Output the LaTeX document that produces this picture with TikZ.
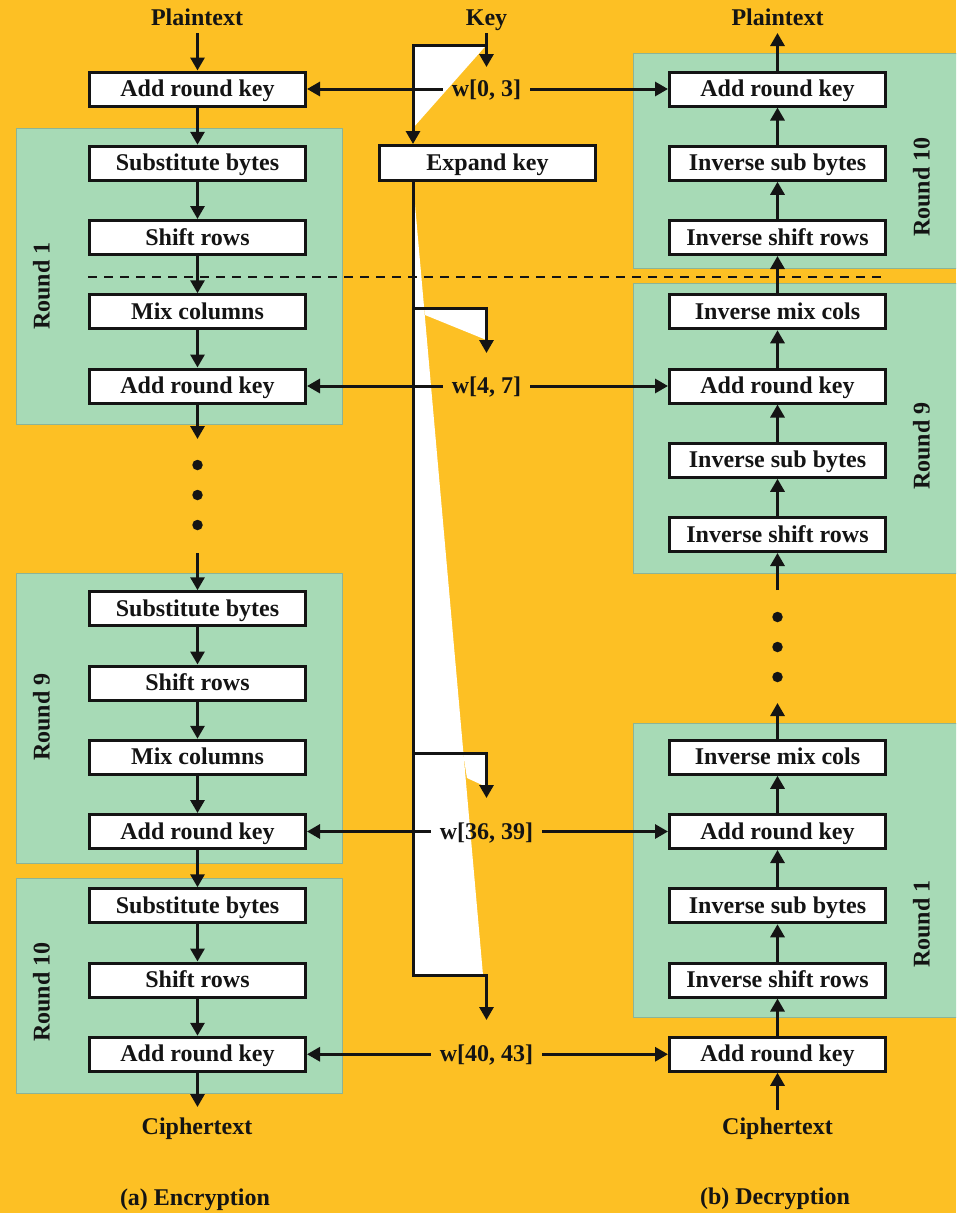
\documentclass[tikz,border=0pt]{standalone}
\usepackage{fontspec}
\setmainfont{Liberation Serif}
\usetikzlibrary{arrows.meta}

\definecolor{bgyellow}{RGB}{253,192,36}
\definecolor{roundgreen}{RGB}{167,218,182}
\definecolor{roundedge}{RGB}{140,180,150}
\definecolor{ink}{RGB}{20,20,20}

\newcommand{\lblfont}{\bfseries\fontsize{24}{28}\selectfont}

\begin{document}
\begin{tikzpicture}[x=1pt,y=-1pt,
  every node/.style={font=\lblfont, text=ink, text height=16pt, text depth=1pt},
  stepbox/.style={draw=ink, line width=3pt, fill=white, minimum width=216pt,
                  minimum height=34pt, inner sep=0pt},
  panel/.style={fill=roundgreen, draw=roundedge, line width=0.8pt},
  wire/.style={draw=ink, line width=3pt, line join=miter},
  flow/.style={wire, -{Triangle[length=13pt,width=14pt]}},
  wlabel/.style={inner xsep=9pt, inner ysep=4pt},
  roundlbl/.style={rotate=90, inner sep=0pt},
  dotmark/.style={circle, fill=ink, inner sep=0pt, minimum size=10.5pt,
                  text height=0pt, text depth=0pt},
  wedge/.style={fill=white}
]
\useasboundingbox (0,0) rectangle (956,1213);
\fill[bgyellow] (0,0) rectangle (956,1213);
\clip (0,0) rectangle (956,1213);

% ---- round panels ----
\draw[panel] (16,128) rectangle (342,424);
\draw[panel] (16,573) rectangle (342,863);
\draw[panel] (16,878) rectangle (342,1093);
\draw[panel] (633,53)  rectangle (960,268);
\draw[panel] (633,283) rectangle (960,573);
\draw[panel] (633,723) rectangle (960,1017);

% ---- key expansion wedges ----
\fill[wedge] (413,45) -- (486.5,45) -- (413,128) -- cycle;
\fill[wedge] (413,182) -- (483,975) -- (413,975) -- cycle;
\fill[wedge] (424,308) -- (486.5,308) -- (486.5,340) -- (425,315) -- cycle;
\fill[wedge] (463,753) -- (486.5,753) -- (486.5,787) -- (467,778) -- cycle;

% ---- boundary between rounds ----
\draw[ink, line width=2pt, dash pattern=on 9pt off 7pt] (88,277) -- (885,277);

% ---- top and bottom labels ----
\node (ptE) at (197,18) {Plaintext};
\node (ptD) at (777.5,18) {Plaintext};
\node (key) at (486.5,18) {Key};
\node (ctE) at (197,1127) {Ciphertext};
\node (ctD) at (777.5,1127) {Ciphertext};
\node (capE) at (195,1198) {(a) Encryption};
\node (capD) at (775,1197) {(b) Decryption};

% ---- encryption column ----
\node[stepbox] (e0)   at (197.5,89)     {Add round key};
\node[stepbox] (e1s)  at (197.5,163.25) {Substitute bytes};
\node[stepbox] (e1r)  at (197.5,237.5)  {Shift rows};
\node[stepbox] (e1m)  at (197.5,311.75) {Mix columns};
\node[stepbox] (e1k)  at (197.5,386)    {Add round key};
\node[stepbox] (e9s)  at (197.5,608.75) {Substitute bytes};
\node[stepbox] (e9r)  at (197.5,683)    {Shift rows};
\node[stepbox] (e9m)  at (197.5,757.25) {Mix columns};
\node[stepbox] (e9k)  at (197.5,831.5)  {Add round key};
\node[stepbox] (e10s) at (197.5,905.75) {Substitute bytes};
\node[stepbox] (e10r) at (197.5,980)    {Shift rows};
\node[stepbox] (e10k) at (197.5,1054.25){Add round key};

% ---- decryption column ----
\node[stepbox] (d10k) at (777.5,89)     {Add round key};
\node[stepbox] (d10s) at (777.5,163.25) {Inverse sub bytes};
\node[stepbox] (d10r) at (777.5,237.5)  {Inverse shift rows};
\node[stepbox] (d9m)  at (777.5,311.75) {Inverse mix cols};
\node[stepbox] (d9k)  at (777.5,386)    {Add round key};
\node[stepbox] (d9s)  at (777.5,460.25) {Inverse sub bytes};
\node[stepbox] (d9r)  at (777.5,534.5)  {Inverse shift rows};
\node[stepbox] (d1m)  at (777.5,757.25) {Inverse mix cols};
\node[stepbox] (d1k)  at (777.5,831.5)  {Add round key};
\node[stepbox] (d1s)  at (777.5,905.75) {Inverse sub bytes};
\node[stepbox] (d1r)  at (777.5,980)    {Inverse shift rows};
\node[stepbox] (d0)   at (777.5,1054.25){Add round key};

% ---- key expansion ----
\node[stepbox, minimum height=35pt] (expand) at (487.5,163) {Expand key};
\node[wlabel] (w03)   at (486.5,89)      {w[0, 3]};
\node[wlabel] (w47)   at (486.5,386)     {w[4, 7]};
\node[wlabel] (w3639) at (486.5,831.5)   {w[36, 39]};
\node[wlabel] (w4043) at (486.5,1054.25) {w[40, 43]};

% ---- round labels ----
\node[roundlbl] (rE1)  at (42,286)  {Round 1};
\node[roundlbl] (rE9)  at (42,717)  {Round 9};
\node[roundlbl] (rE10) at (42,992)  {Round 10};
\node[roundlbl] (rD10) at (922,187) {Round 10};
\node[roundlbl] (rD9)  at (922,446) {Round 9};
\node[roundlbl] (rD1)  at (922,924) {Round 1};

% ---- ellipsis dots ----
\node[dotmark] (eDa) at (197.5,465) {};
\node[dotmark] (eDb) at (197.5,495) {};
\node[dotmark] (eDc) at (197.5,525) {};
\node[dotmark] (dDa) at (777.5,617) {};
\node[dotmark] (dDb) at (777.5,647) {};
\node[dotmark] (dDc) at (777.5,677) {};

% ---- free connector ends ----
\coordinate (ptEend) at (197.5,33);
\coordinate (ptDend) at (777.5,33);
\coordinate (ctEend) at (197.5,1107);
\coordinate (ctDend) at (777.5,1110);
\coordinate (eGapTop) at (197.5,439);
\coordinate (eGapBot) at (197.5,553);
\coordinate (dGapBot) at (777.5,590);
\coordinate (dGapTop) at (777.5,703);
\coordinate (kTop) at (486.5,33);
\coordinate (kJoin) at (486.5,45);
\coordinate (kLeft) at (413,45);
\coordinate (kTip0) at (486.5,67);
\coordinate (busTop) at (413,182);
\coordinate (busBot) at (413,975);
\coordinate (busTurn) at (486.5,975);
\coordinate (br1) at (413,308);
\coordinate (br1r) at (486.5,308);
\coordinate (br9) at (413,753);
\coordinate (br9r) at (486.5,753);
\coordinate (kTip1) at (486.5,353);
\coordinate (kTip9) at (486.5,798);
\coordinate (kTip10) at (486.5,1020);

% ---- encryption flow ----
\draw[flow] (ptEend) -- (e0);
\draw[flow] (e0) -- (e1s);
\draw[flow] (e1s) -- (e1r);
\draw[flow] (e1r) -- (e1m);
\draw[flow] (e1m) -- (e1k);
\draw[flow] (e1k) -- (eGapTop);
\draw[flow] (eGapBot) -- (e9s);
\draw[flow] (e9s) -- (e9r);
\draw[flow] (e9r) -- (e9m);
\draw[flow] (e9m) -- (e9k);
\draw[flow] (e9k) -- (e10s);
\draw[flow] (e10s) -- (e10r);
\draw[flow] (e10r) -- (e10k);
\draw[flow] (e10k) -- (ctEend);

% ---- decryption flow ----
\draw[flow] (ctDend) -- (d0);
\draw[flow] (d0) -- (d1r);
\draw[flow] (d1r) -- (d1s);
\draw[flow] (d1s) -- (d1k);
\draw[flow] (d1k) -- (d1m);
\draw[flow] (d1m) -- (dGapTop);
\draw[flow] (dGapBot) -- (d9r);
\draw[flow] (d9r) -- (d9s);
\draw[flow] (d9s) -- (d9k);
\draw[flow] (d9k) -- (d9m);
\draw[flow] (d9m) -- (d10r);
\draw[flow] (d10r) -- (d10s);
\draw[flow] (d10s) -- (d10k);
\draw[flow] (d10k) -- (ptDend);

% ---- key schedule wiring ----
\draw[flow] (kTop) -- (kTip0);
\draw[flow] (kJoin) -- (kLeft) -- (kLeft |- expand.north);
\draw[flow] (busTop) -- (busBot) -- (busTurn) -- (kTip10);
\draw[flow] (br1) -- (br1r) -- (kTip1);
\draw[flow] (br9) -- (br9r) -- (kTip9);

% ---- round keys to both columns ----
\draw[flow] (w03.west) -- (e0.east);
\draw[flow] (w03.east) -- (d10k.west);
\draw[flow] (w47.west) -- (e1k.east);
\draw[flow] (w47.east) -- (d9k.west);
\draw[flow] (w3639.west) -- (e9k.east);
\draw[flow] (w3639.east) -- (d1k.west);
\draw[flow] (w4043.west) -- (e10k.east);
\draw[flow] (w4043.east) -- (d0.west);
\end{tikzpicture}
\end{document}
